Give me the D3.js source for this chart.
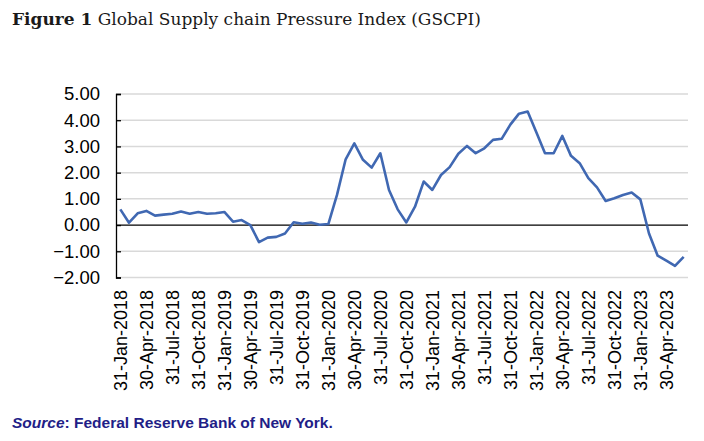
<!DOCTYPE html>
<html>
<head>
<meta charset="utf-8">
<script src="https://cdn.jsdelivr.net/npm/d3@7"></script>
<style>
  html, body { margin: 0; padding: 0; background: #fff; }
  svg { display: block; }
</style>
</head>
<body>
<div id="chart"></div>
<script>
const months = d3.timeMonth.range(new Date(2018, 0, 1), new Date(2023, 6, 1))

const gscpi = [
  0.60, 0.09, 0.45, 0.54, 0.36, 0.40, 0.43, 0.52, 0.43, 0.50, 0.43, 0.45,
  0.50, 0.13, 0.19, 0.00, -0.65, -0.48, -0.45, -0.32, 0.11, 0.05, 0.10, 0.01,
  0.04, 1.15, 2.51, 3.12, 2.49, 2.19, 2.74, 1.34, 0.60, 0.10, 0.70, 1.66,
  1.34, 1.91, 2.21, 2.72, 3.02, 2.74, 2.93, 3.25, 3.29, 3.83, 4.25, 4.33,
  3.54, 2.74, 2.74, 3.40, 2.64, 2.36, 1.79, 1.44, 0.92, 1.02, 1.15, 1.24,
  0.98, -0.32, -1.17, -1.36, -1.56, -1.21
]

const tickLabels = [
  "31-Jan-2018", "30-Apr-2018", "31-Jul-2018", "31-Oct-2018",
  "31-Jan-2019", "30-Apr-2019", "31-Jul-2019", "31-Oct-2019",
  "31-Jan-2020", "30-Apr-2020", "31-Jul-2020", "31-Oct-2020",
  "31-Jan-2021", "30-Apr-2021", "31-Jul-2021", "31-Oct-2021",
  "31-Jan-2022", "30-Apr-2022", "31-Jul-2022", "31-Oct-2022",
  "31-Jan-2023", "30-Apr-2023"
]

const yTicks = [-2, -1, 0, 1, 2, 3, 4, 5]

const width = 704
const height = 441
const plot = {left: 116, right: 688, top: 94, bottom: 277.5}

const svg = d3.select("#chart")
  .append("svg")
  .attr("width", width)
  .attr("height", height)
  .attr("viewBox", `0 0 ${width} ${height}`)

svg.append("rect").attr("width", width).attr("height", height).attr("fill", "#fff")

const x = d3.scaleBand()
  .domain(d3.range(months.length))
  .range([plot.left, plot.right])

const y = d3.scaleLinear()
  .domain([-2, 5])
  .range([plot.bottom, plot.top])

const cx = i => x(i) + x.bandwidth() / 2

// title
const title = svg.append("text")
  .attr("x", 12)
  .attr("y", 25)
  .attr("font-family", "'DejaVu Serif', serif")
  .attr("font-size", 17)
  .attr("fill", "#1a1a1a")
title.append("tspan").attr("font-weight", "bold").text("Figure 1")
title.append("tspan").text(" Global Supply chain Pressure Index (GSCPI)")

// gridlines
svg.append("g")
  .selectAll("line")
  .data(yTicks.filter(t => t !== 0))
  .join("line")
  .attr("x1", plot.left)
  .attr("x2", plot.right)
  .attr("y1", d => y(d))
  .attr("y2", d => y(d))
  .attr("stroke", "#d9d9d9")
  .attr("stroke-width", 1.5)

// y axis
svg.append("g")
  .attr("transform", `translate(${plot.left},0)`)
  .call(d3.axisLeft(y).tickValues(yTicks).tickSize(-5).tickPadding(16).tickFormat(d3.format(".2f")))
  .call(g => g.selectAll("line,path").attr("stroke", "#000").attr("stroke-width", 1.3))
  .call(g => g.selectAll("text")
    .attr("fill", "#000")
    .attr("font-family", "'Liberation Sans', Arial, sans-serif")
    .attr("font-size", 18.5))

// zero line
svg.append("line")
  .attr("x1", plot.left)
  .attr("x2", plot.right)
  .attr("y1", y(0))
  .attr("y2", y(0))
  .attr("stroke", "#000")
  .attr("stroke-width", 1.3)

// x labels
svg.append("g")
  .selectAll("text")
  .data(tickLabels)
  .join("text")
  .attr("transform", (d, i) => `translate(${cx(i * 3)},290) rotate(-90)`)
  .attr("dy", "0.35em")
  .attr("text-anchor", "end")
  .attr("font-family", "'Liberation Sans', Arial, sans-serif")
  .attr("font-size", 18)
  .attr("fill", "#000")
  .text(d => d)

// line
const line = d3.line()
  .x((d, i) => cx(i))
  .y(d => y(d))

svg.append("path")
  .datum(gscpi)
  .attr("fill", "none")
  .attr("stroke", "#4068b2")
  .attr("stroke-width", 2.6)
  .attr("stroke-linejoin", "round")
  .attr("d", line)

// source
const source = svg.append("text")
  .attr("x", 12)
  .attr("y", 428)
  .attr("font-family", "'Liberation Sans', Arial, sans-serif")
  .attr("font-size", 15.5)
  .attr("font-weight", "bold")
  .attr("fill", "#221e87")
source.append("tspan").attr("font-style", "italic").text("Source")
source.append("tspan").text(": Federal Reserve Bank of New York.")
</script>
</body>
</html>
